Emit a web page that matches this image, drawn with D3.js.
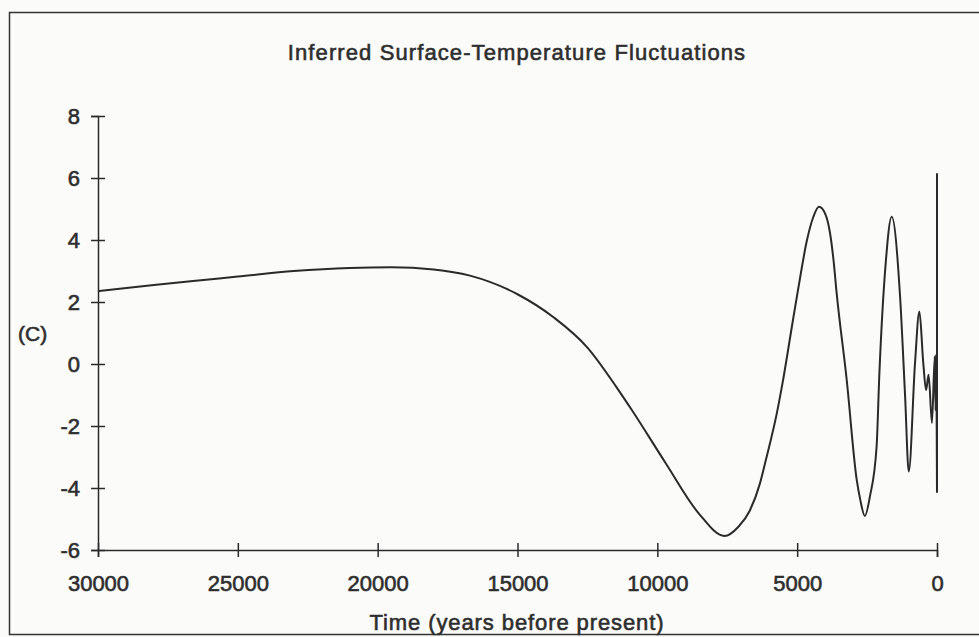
<!DOCTYPE html>
<html>
<head>
<meta charset="utf-8">
<script src="https://cdn.jsdelivr.net/npm/d3@7"></script>
<style>
  body { margin: 0; background: #fbfbf9; }
  svg { display: block; font-family: "Liberation Sans", Arial, Helvetica, sans-serif; }
  .lbl { fill: #2e2e2e; stroke: #2e2e2e; stroke-width: 0.6px; }
</style>
</head>
<body>
<div id="chart"></div>
<script>
// years before present and inferred temperature (C)
const years = [30000, 28000, 26600, 25000, 23000, 21000, 19500, 18000, 16700, 15000,
  13700, 12500, 11450, 10900, 9700, 8500, 7600, 7100, 6700, 6330,
  6120, 5730, 5530, 5150, 4930, 4660, 4420, 4220, 4000, 3830,
  3700, 3590, 3230, 2870, 2750, 2580, 2400, 2160, 2060, 1830,
  1620, 1320, 1140, 1010, 786, 630, 490, 390, 300, 180,
  80, 50, 30, 15]
const temps = [2.35, 2.55, 2.68, 2.82, 3.0, 3.1, 3.12, 3.05, 2.85, 2.25,
  1.5, 0.53, -0.76, -1.5, -3.2, -4.84, -5.55, -5.25, -4.74, -3.85,
  -3.1, -1.6, -0.65, 1.42, 2.6, 3.95, 4.75, 5.07, 4.85, 4.25,
  3.35, 2.3, -0.5, -3.74, -4.35, -4.9, -4.28, -2.67, -0.3, 3.3,
  4.75, 2.17, -1.05, -3.47, 0.03, 1.69, 0.02, -0.84, -0.35, -1.9,
  0.24, -1.5, 0.3, -1.2]

// the record ends with a vertical stroke at year 0
const endYear = 0
const endTemps = [-4.15, 6.15]

const xTicks = [30000, 25000, 20000, 15000, 10000, 5000, 0]
const yTicks = [-6, -4, -2, 0, 2, 4, 6, 8]

const width = 979
const height = 637
const ink = '#2a2a2a'

const svg = d3.select('#chart').append('svg')
  .attr('width', width)
  .attr('height', height)

// scanned page frame
svg.append('rect')
  .attr('x', 9.5).attr('y', 12.5)
  .attr('width', 990).attr('height', 622)
  .attr('fill', 'none')
  .attr('stroke', '#333')
  .attr('stroke-width', 1.5)

const x = d3.scaleLinear().domain([30000, 0]).range([98, 937])
const y = d3.scaleLinear().domain([-6, 8]).range([550, 116])

// x axis, ticks crossing the line
const gx = svg.append('g')
  .attr('transform', 'translate(0,' + y(-6) + ')')
  .call(d3.axisBottom(x).tickValues(xTicks).tickSizeOuter(0).tickSize(7).tickFormat(d => String(d)))
gx.selectAll('.tick line').attr('y1', -7).attr('y2', 7)
gx.selectAll('.tick text').attr('y', 25)

// y axis
const gy = svg.append('g')
  .attr('transform', 'translate(' + x(30000) + ',0)')
  .call(d3.axisLeft(y).tickValues(yTicks).tickSizeOuter(0).tickSize(7).tickFormat(d => String(d)))
gy.selectAll('.tick line').attr('x1', 7).attr('x2', -7)
gy.selectAll('.tick text').attr('x', -18)

svg.selectAll('.domain, .tick line').attr('stroke', ink).attr('stroke-width', 1.5)
svg.selectAll('.tick text')
  .attr('class', 'lbl')
  .attr('font-size', 22)
  .style('font-family', '"Liberation Sans", Arial, sans-serif')

// temperature curve
const points = years.map((yr, i) => [yr, temps[i]])
const line = d3.line()
  .x(d => x(d[0]))
  .y(d => y(d[1]))
  .curve(d3.curveMonotoneX)

svg.append('path')
  .datum(points)
  .attr('d', line)
  .attr('fill', 'none')
  .attr('stroke', ink)
  .attr('stroke-width', 2)
  .attr('stroke-linejoin', 'round')

// last wiggle into the vertical stroke at the present
const tail = [points[points.length - 1], [endYear, endTemps[0]], [endYear, endTemps[1]]]
svg.append('path')
  .datum(tail)
  .attr('d', d3.line().x(d => x(d[0])).y(d => y(d[1])))
  .attr('fill', 'none')
  .attr('stroke', ink)
  .attr('stroke-width', 2)

// labels
svg.append('text')
  .attr('class', 'lbl')
  .attr('x', 517).attr('y', 60)
  .attr('text-anchor', 'middle')
  .attr('font-size', 22)
  .attr('letter-spacing', 1.1)
  .text('Inferred Surface-Temperature Fluctuations')

svg.append('text')
  .attr('class', 'lbl')
  .attr('x', 517).attr('y', 630)
  .attr('text-anchor', 'middle')
  .attr('font-size', 22)
  .attr('letter-spacing', 0.9)
  .text('Time (years before present)')

svg.append('text')
  .attr('class', 'lbl')
  .attr('x', 18).attr('y', 341)
  .attr('font-size', 21)
  .text('(C)')
</script>
</body>
</html>
